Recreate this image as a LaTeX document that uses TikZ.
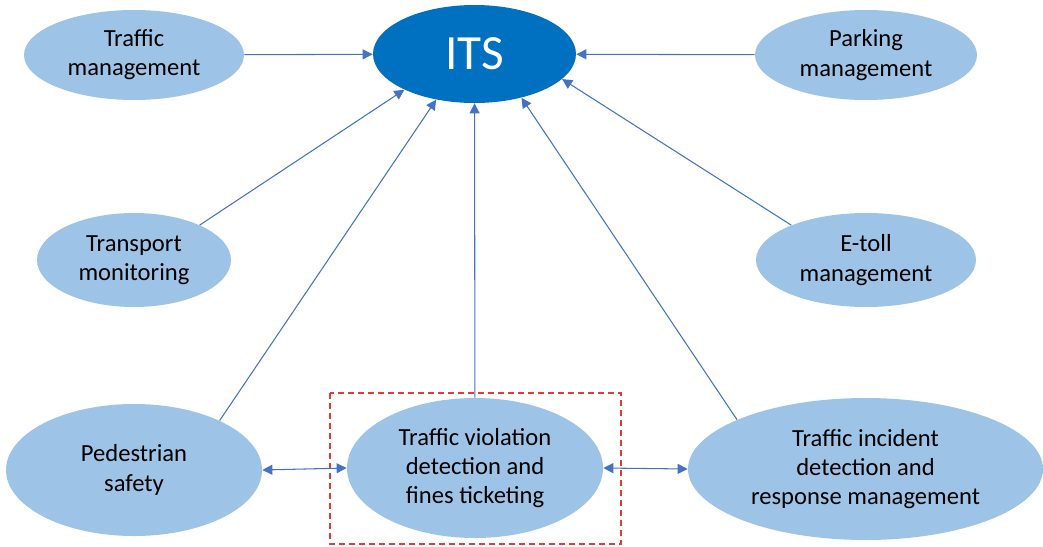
\documentclass[tikz,border=0pt]{standalone}
\usepackage{fontspec}
\setmainfont{Carlito}
\usepackage{tikz}
\usetikzlibrary{arrows.meta,shapes.geometric,positioning}
\definecolor{itsblue}{HTML}{0070C0}
\definecolor{svcblue}{HTML}{9DC3E6}
\definecolor{linkblue}{HTML}{4472C4}
\definecolor{boxred}{HTML}{E03A3A}

\begin{document}
\begin{tikzpicture}[x=0.2mm,y=-0.2mm,>={Triangle[length=2mm,width=2mm]},
                    service/.style={ellipse,fill=svcblue,inner sep=0pt,align=center,
                                    font=\fontsize{14pt}{16.6pt}\selectfont},
                    every edge/.style={draw=linkblue,line width=0.6pt}]
\useasboundingbox (0,0) rectangle (1043,546);

\node[ellipse, fill=itsblue, text=white, minimum width=40.6mm, minimum height=19.6mm,
      font=\fontsize{28pt}{30pt}\selectfont] (ITS) at (474.5,54) {ITS};

\node[service, minimum width=44mm, minimum height=18mm]     (TM)  at (134,55)  {Traffic\\management};
\node[service, minimum width=44.4mm, minimum height=18mm]   (PM)  at (866,55)  {Parking\\management};
\node[service, minimum width=38.8mm, minimum height=18.8mm] (MON) at (134,260) {Transport\\monitoring};
\node[service, minimum width=44mm, minimum height=18.8mm]   (ET)  at (866,260) {E-toll\\management};
\node[service, minimum width=51.2mm, minimum height=26.4mm] (PED) at (134,470) {Pedestrian\\safety};
\node[service, minimum width=51.2mm, minimum height=28mm]   (TV)  at (475,468) {Traffic violation\\detection and\\fines ticketing};
\node[service, minimum width=71mm, minimum height=28.4mm]    (TI)  at (865.5,469) {Traffic incident\\detection and\\response management};

% highlighted service
\draw[boxred, line width=0.8pt, dash pattern=on 1.2mm off 0.8mm] (330,393) rectangle (621,544);

\path (TM) edge[->] (ITS)
      (PM) edge[->] (ITS)
      (MON.28) edge[->] (ITS.207)
      (ET.155) edge[->] (ITS.344)
      (PED.30) edge[->] (ITS.230)
      (TV) edge[->] (ITS)
      (TI.159) edge[->] (ITS.317);

\path (PED.east) edge[<->] (TV.west)
      (TV.east) edge[<->] (TI.west);

\end{tikzpicture}
\end{document}
